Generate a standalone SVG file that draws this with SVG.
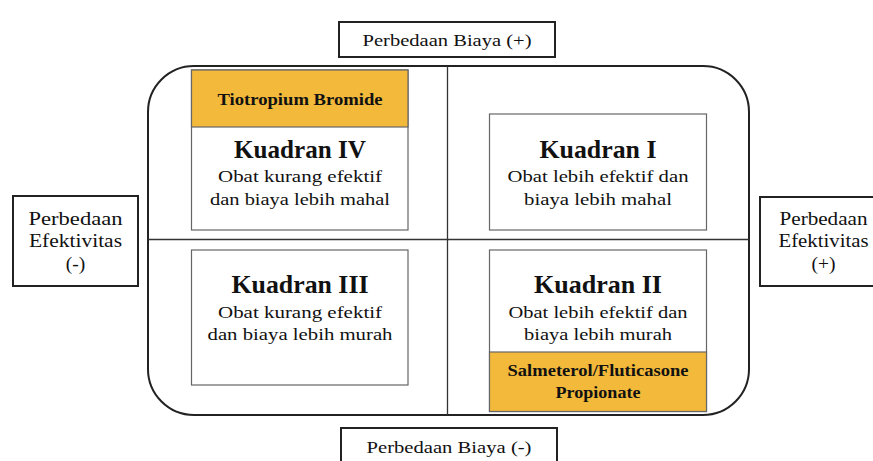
<svg xmlns="http://www.w3.org/2000/svg" width="873" height="461" viewBox="0 0 873 461">
<style>
text{font-family:"Liberation Serif","Times New Roman",serif;fill:#111;text-anchor:middle}
.t{font-size:17.5px}
.s{font-size:19.5px}
.h{font-size:24.5px;font-weight:bold}
.d{font-size:16.5px;font-weight:bold}
.box{fill:#fff;stroke:#222;stroke-width:2}
.q{fill:#fff;stroke:#666;stroke-width:1.2}
.or{fill:#F2B93B;stroke:#666;stroke-width:1.2}
.ln{stroke:#333;stroke-width:1.3;fill:none}
</style>
<rect width="873" height="461" fill="#fff"/>
<g id="frame">
<rect x="148" y="66" width="601" height="349" rx="46" ry="46" fill="#fff" stroke="#222" stroke-width="2"/>
</g>
<g id="connectors">
<line class="ln" x1="447.5" y1="66" x2="447.5" y2="415"/>
<line class="ln" x1="148" y1="239.5" x2="749" y2="239.5"/>
</g>
<g id="top">
<rect class="box" x="339" y="22" width="216" height="35"/>
<text class="t" x="447" y="46" textLength="169" lengthAdjust="spacingAndGlyphs">Perbedaan Biaya (+)</text>
</g>
<g id="bottom">
<rect class="box" x="341" y="428" width="216" height="40"/>
<text class="t" x="449" y="453" textLength="165" lengthAdjust="spacingAndGlyphs">Perbedaan Biaya (-)</text>
</g>
<g id="left">
<rect class="box" x="13" y="196" width="125" height="90"/>
<text class="s" x="75.5" y="225" textLength="94" lengthAdjust="spacingAndGlyphs">Perbedaan</text>
<text class="s" x="75.5" y="247" textLength="93" lengthAdjust="spacingAndGlyphs">Efektivitas</text>
<text class="s" x="75.5" y="270">(-)</text>
</g>
<g id="right">
<rect class="box" x="760" y="197" width="120" height="89"/>
<text class="s" x="823.5" y="225" textLength="88" lengthAdjust="spacingAndGlyphs">Perbedaan</text>
<text class="s" x="823.5" y="247" textLength="90" lengthAdjust="spacingAndGlyphs">Efektivitas</text>
<text class="s" x="823.5" y="270">(+)</text>
</g>
<g id="q4">
<rect class="q" x="191.5" y="70" width="216.5" height="160"/>
<rect class="or" x="191.5" y="70" width="216.5" height="57"/>
<text class="d" x="300" y="105" textLength="165" lengthAdjust="spacingAndGlyphs">Tiotropium Bromide</text>
<text class="h" x="300" y="158" textLength="132" lengthAdjust="spacingAndGlyphs">Kuadran IV</text>
<text class="t" x="300" y="182" textLength="164" lengthAdjust="spacingAndGlyphs">Obat kurang efektif</text>
<text class="t" x="300" y="205" textLength="180" lengthAdjust="spacingAndGlyphs">dan biaya lebih mahal</text>
</g>
<g id="q1">
<rect class="q" x="489.5" y="114" width="217" height="116"/>
<text class="h" x="598" y="158" textLength="117" lengthAdjust="spacingAndGlyphs">Kuadran I</text>
<text class="t" x="598" y="182" textLength="181" lengthAdjust="spacingAndGlyphs">Obat lebih efektif dan</text>
<text class="t" x="598" y="205" textLength="148" lengthAdjust="spacingAndGlyphs">biaya lebih mahal</text>
</g>
<g id="q3">
<rect class="q" x="191.5" y="250" width="216.5" height="135"/>
<text class="h" x="300" y="293" textLength="137" lengthAdjust="spacingAndGlyphs">Kuadran III</text>
<text class="t" x="300" y="318" textLength="164" lengthAdjust="spacingAndGlyphs">Obat kurang efektif</text>
<text class="t" x="300" y="340" textLength="185" lengthAdjust="spacingAndGlyphs">dan biaya lebih murah</text>
</g>
<g id="q2">
<rect class="q" x="489.5" y="250" width="217" height="161.5"/>
<rect class="or" x="489.5" y="352" width="217" height="59.5"/>
<text class="h" x="598" y="293" textLength="128" lengthAdjust="spacingAndGlyphs">Kuadran II</text>
<text class="t" x="598" y="318" textLength="179" lengthAdjust="spacingAndGlyphs">Obat lebih efektif dan</text>
<text class="t" x="598" y="340" textLength="148" lengthAdjust="spacingAndGlyphs">biaya lebih murah</text>
<text class="d" x="598" y="376" textLength="181" lengthAdjust="spacingAndGlyphs">Salmeterol/Fluticasone</text>
<text class="d" x="598" y="398" textLength="85" lengthAdjust="spacingAndGlyphs">Propionate</text>
</g>
</svg>
